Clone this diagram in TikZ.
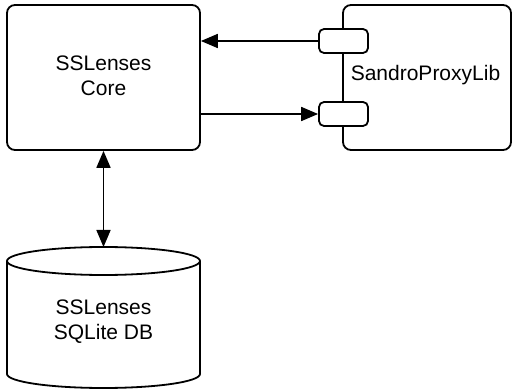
\documentclass[tikz,border=0pt]{standalone}
\usepackage{fontspec}
\setmainfont{Liberation Sans}
\usetikzlibrary{arrows.meta}
\begin{document}
\begin{tikzpicture}[x=1pt,y=1pt,
  box/.style={draw,line width=1.8pt,rounded corners=8pt,fill=white},
  port/.style={draw,line width=1.8pt,rounded corners=5pt,fill=white,minimum width=49pt,minimum height=24pt,inner sep=0pt},
  lbl/.style={font=\fontsize{21}{25}\selectfont,align=center},
  conn/.style={line width=1.8pt,-{Triangle[length=17pt,width=14pt]}},
  biconn/.style={line width=1.8pt,{Triangle[length=17pt,width=14pt]}-{Triangle[length=17pt,width=14pt]}}]
\useasboundingbox (0,0) rectangle (512,389);
% Core
\node[box,minimum width=193pt,minimum height=145pt] (core) at (103.5,311.5) {};
\node[lbl] (coretxt) at (103.5,313) {SSLenses\\Core};
% Proxy
\node[box,minimum width=168pt,minimum height=145pt] (proxy) at (427,311.5) {};
\node[lbl] (proxytxt) at (425.5,314) {SandroProxyLib};
% ports
\node[port] (p1) at (343.5,348) {};
\node[port] (p2) at (343.5,275) {};
% DB cylinder
\coordinate (dbtop) at (103.5,142);
\draw[line width=1.8pt,fill=white] (7,128) -- (7,15) arc[start angle=180,end angle=360,x radius=96.5,y radius=14] -- (200,128);
\draw[line width=1.8pt,fill=white] (103.5,128) ellipse[x radius=96.5,y radius=14];
\node[lbl] (db) at (103.5,67) {SSLenses\\SQLite DB};
% connectors
\draw[conn] (p1.west) -- (core.east |- p1.west);
\draw[conn] (core.east |- p2.west) -- (p2.west);
\draw[biconn] (core.south) -- (dbtop);
\end{tikzpicture}
\end{document}
